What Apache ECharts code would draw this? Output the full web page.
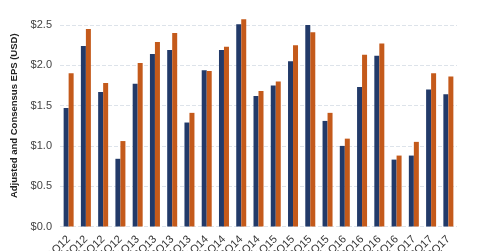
<!DOCTYPE html>
<html><head><meta charset="utf-8">
<script src="https://cdn.jsdelivr.net/npm/echarts@6/dist/echarts.min.js"></script>
<style>html,body{margin:0;padding:0;background:#fff}#c{width:480px;height:251px}</style>
</head><body><div id="c"></div>
<script>
const categories = ['1Q12','2Q12','3Q12','4Q12','1Q13','2Q13','3Q13','4Q13','1Q14','2Q14','3Q14','4Q14','1Q15','2Q15','3Q15','4Q15','1Q16','2Q16','3Q16','4Q16','1Q17','2Q17','3Q17'];
const adjustedEPS = [1.47,2.24,1.67,0.84,1.77,2.14,2.19,1.29,1.94,2.19,2.51,1.62,1.75,2.05,2.50,1.31,1.00,1.73,2.12,0.83,0.88,1.70,1.64];
const consensusEPS = [1.90,2.45,1.78,1.06,2.03,2.29,2.40,1.41,1.93,2.23,2.57,1.68,1.80,2.25,2.41,1.41,1.09,2.13,2.27,0.88,1.05,1.90,1.86];
const yTicks = [0, 0.5, 1.0, 1.5, 2.0, 2.5];
const chart = echarts.init(document.getElementById('c'), null, {renderer:'canvas'});
chart.setOption({
  animation:false,
  grid:{left:60,right:23,top:25,bottom:24.5,containLabel:false,outerBoundsMode:'none'},
  xAxis:{type:'category',data:categories,
    axisLine:{show:false},axisTick:{show:false},
    axisLabel:{rotate:45,interval:0,fontSize:11,color:'#333',fontFamily:'Liberation Sans, Arial',margin:11}},
  yAxis:{type:'value',min:yTicks[0],max:yTicks[yTicks.length-1],interval:0.5,
    name:'Adjusted and Consensus EPS (USD)',nameLocation:'middle',nameGap:36,
    nameTextStyle:{fontSize:9.5,fontWeight:'bold',color:'#222',fontFamily:'Liberation Sans, Arial',padding:[0,0,0,20]},
    axisLabel:{formatter:v=>'$'+v.toFixed(1),fontSize:11,color:'#444',fontFamily:'Liberation Sans, Arial',margin:8},
    splitLine:{lineStyle:{type:'dashed',color:'#dde3ea',width:1}}},
  series:[
    {type:'bar',data:adjustedEPS,barWidth:5,barGap:'0%',clip:false,itemStyle:{color:'#223a69'}},
    {type:'bar',data:consensusEPS,barWidth:5,clip:false,itemStyle:{color:'#c45a1b'}}
  ]
});
</script></body></html>
